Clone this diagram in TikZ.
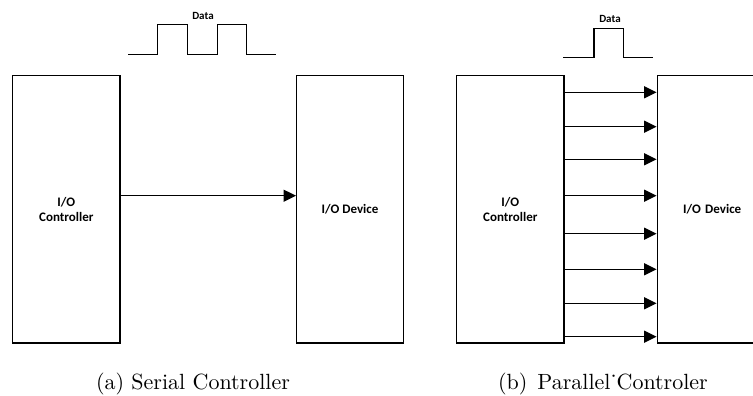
\documentclass[tikz,border=0pt]{standalone}
\usepackage{fontspec}
\newfontfamily\boxfont{Carlito}
\newfontfamily\capfont{lmroman10-regular.otf}
\usetikzlibrary{arrows.meta}
\begin{document}
\begin{tikzpicture}[x=1pt,y=-1pt,
  blk/.style={draw, line width=1.4pt, rectangle, minimum height=267.3pt, inner sep=0pt,
    align=center, font=\boxfont\bfseries\fontsize{13}{15.5}\selectfont},
  arr/.style={line width=1.4pt, -{Triangle[length=12.5pt,width=12pt]}},
  wave/.style={line width=1.4pt},
  datalbl/.style={font=\boxfont\bfseries\fontsize{11}{12}\selectfont, inner sep=0pt},
  captxt/.style={font=\capfont\fontsize{22}{26}\selectfont, anchor=base, inner sep=0pt}]
\clip (0,0) rectangle (753,396);
% panel (a)
\node[blk, minimum width=107.3pt] (lc) at (66.35,209.35) {I/O\\Controller};
\node[blk, minimum width=106.6pt] (ld) at (350,209.35) {I/O Device};
\coordinate (ya) at (0,195.7);
\draw[arr] (lc.east |- ya) -- (ld.west |- ya);
\draw[wave] (128,54.3) -- (157.7,54.3) -- (157.7,24.7) -- (187.3,24.7) -- (187.3,54.3)
  -- (217.3,54.3) -- (217.3,24.7) -- (246.7,24.7) -- (246.7,54.3) -- (276,54.3);
\node[datalbl] (da) at (203,16) {Data};
\node[captxt] (ca) at (193,389.5) {(a) Serial Controller};
% panel (b)
\node[blk, minimum width=107.3pt] (rc) at (510.35,209.35) {I/O\\Controller};
\node[blk, minimum width=109.7pt, text width=95pt] (rd) at (712.15,209.35) {I/O Device};
\foreach \y [count=\i] in {92.3,126.7,159.3,195.7,233.7,269.3,303.3,336.7}{
  \coordinate (yb\i) at (0,\y);
  \draw[arr] (rc.east |- yb\i) -- (rd.west |- yb\i);
}
\draw[wave] (563.3,57.7) -- (594,57.7) -- (594,28.7) -- (623.7,28.7) -- (623.7,57.7) -- (653.3,57.7);
\node[datalbl] (db) at (610,19.3) {Data};
\node[captxt] (cb) at (603,389.5) {(b)\hspace{0.45em}Parallel\char"02D9 Controler};
\end{tikzpicture}
\end{document}
